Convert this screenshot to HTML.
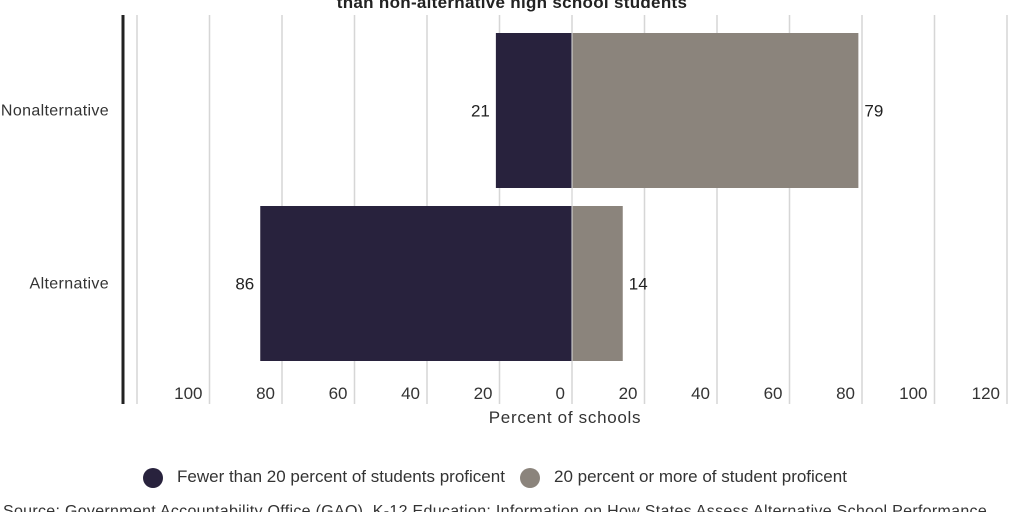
<!DOCTYPE html>
<html><head><meta charset="utf-8"><style>
body{margin:0;background:#fff;}
svg{display:block;font-family:"Liberation Sans",sans-serif;}
</style></head><body>
<svg width="1024" height="512" viewBox="0 0 1024 512">
<text x="512" y="8" text-anchor="middle" font-weight="bold" font-size="17" letter-spacing="0.3" fill="#222">than non-alternative high school students</text>
<g id="grid"></g>
<line x1="123" y1="15" x2="123" y2="404" stroke="#222" stroke-width="3"/>
<g id="bars"></g>
<text x="565" y="423" text-anchor="middle" font-size="17" letter-spacing="0.7" fill="#333">Percent of schools</text>
<g>
<circle cx="153" cy="478" r="10" fill="#28223d"/>
<text x="177" y="482" font-size="17" fill="#333">Fewer than 20 percent of students proficent</text>
<circle cx="530" cy="478" r="10" fill="#8b847c"/>
<text x="554" y="482" font-size="17" fill="#333">20 percent or more of student proficent</text>
</g>
<text x="3" y="516" font-size="16" letter-spacing="0.3" fill="#333">Source: Government Accountability Office (GAO), K-12 Education: Information on How States Assess Alternative School Performance</text>
</svg>
<script>
const categories=["Nonalternative","Alternative"];
const fewerValues=[21,86];
const moreValues=[79,14];
const negTicks=[120,100,80,60,40,20,0];
const posTicks=[20,40,60,80,100,120];
const NS="http://www.w3.org/2000/svg";
const zero=572, unit=3.625;
const x=v=>zero+v*unit;
const bandTop=[33,206], bandH=155;
function mk(tag,attrs,parent,text){const e=document.createElementNS(NS,tag);for(const k in attrs)e.setAttribute(k,attrs[k]);if(text!=null)e.textContent=text;parent.appendChild(e);return e;}
const grid=document.getElementById('grid'), bars=document.getElementById('bars');
negTicks.forEach(t=>{
  const gx=x(-t);
  const l=mk('line',{x1:gx,y1:15,x2:gx,y2:404,stroke:'#d6d6d6','stroke-width':1.5},grid);
  
  
  if(t!==120){const tx=mk('text',{x:gx-7,y:399,'text-anchor':'end','font-size':17,fill:'#333'},grid,t);
  
  }
});
posTicks.forEach(t=>{
  const gx=x(t);
  const l=mk('line',{x1:gx,y1:15,x2:gx,y2:404,stroke:'#d6d6d6','stroke-width':1.5},grid);
  
  
  const tx=mk('text',{x:gx-7,y:399,'text-anchor':'end','font-size':17,fill:'#333'},grid,t);
  
  
});
categories.forEach((c,i)=>{
  const y=bandTop[i], cy=y+bandH/2;
  const lab=mk('text',{x:109,y:cy+5,'text-anchor':'end','font-size':16,'letter-spacing':0.35,fill:'#333'},bars,c);
  
  
  const b1=mk('rect',{x:x(-fewerValues[i]),y:y,width:fewerValues[i]*unit,height:bandH,fill:'#28223d'},bars);
  
  
  const b2=mk('rect',{x:zero,y:y,width:moreValues[i]*unit,height:bandH,fill:'#8b847c'},bars);
  
  
  const v1=mk('text',{x:x(-fewerValues[i])-6,y:cy+6,'text-anchor':'end','font-size':17,fill:'#222'},bars,fewerValues[i]);
  
  
  const v2=mk('text',{x:x(moreValues[i])+6,y:cy+6,'font-size':17,fill:'#222'},bars,moreValues[i]);
  
  
});
const sep=mk('line',{x1:zero,y1:33,x2:zero,y2:361,stroke:'#ddd','stroke-width':1},bars);


</script>
</body></html>
